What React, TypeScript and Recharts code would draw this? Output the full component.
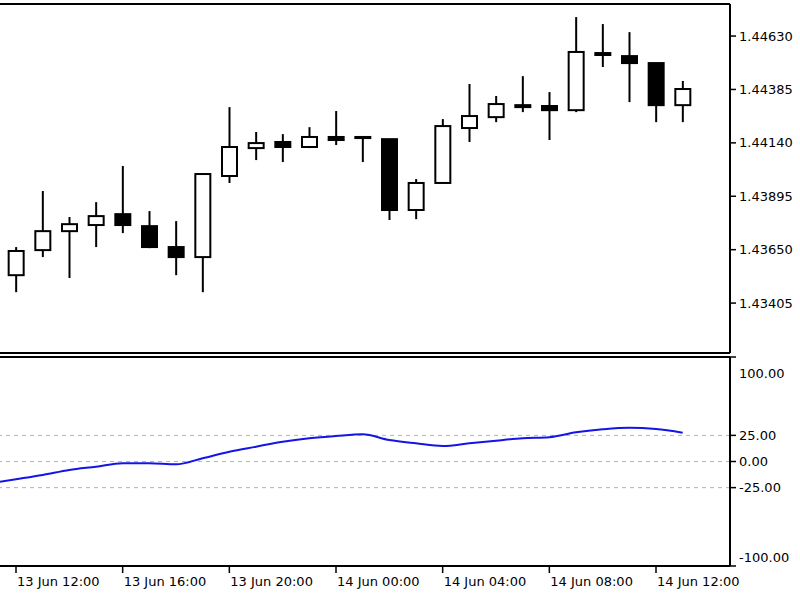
import { ComposedChart, Bar, Line, XAxis, YAxis, ReferenceLine } from "recharts";

// hourly candles, 13 Jun 12:00 .. 14 Jun 13:00
const candleTimes = [
  "13 Jun 12:00", "13 Jun 13:00", "13 Jun 14:00", "13 Jun 15:00", "13 Jun 16:00", "13 Jun 17:00",
  "13 Jun 18:00", "13 Jun 19:00", "13 Jun 20:00", "13 Jun 21:00", "13 Jun 22:00", "13 Jun 23:00",
  "14 Jun 00:00", "14 Jun 01:00", "14 Jun 02:00", "14 Jun 03:00", "14 Jun 04:00", "14 Jun 05:00",
  "14 Jun 06:00", "14 Jun 07:00", "14 Jun 08:00", "14 Jun 09:00", "14 Jun 10:00", "14 Jun 11:00",
  "14 Jun 12:00", "14 Jun 13:00",
];
const opens = [1.43533, 1.43648, 1.43735, 1.43763, 1.43813, 1.43758, 1.43662, 1.43616, 1.43988, 1.44116, 1.44144, 1.44121, 1.44167, 1.44167, 1.44157, 1.43832, 1.43956, 1.44208, 1.44258, 1.44313, 1.44309, 1.4429, 1.44552, 1.44538, 1.44506, 1.44313];
const highs = [1.43662, 1.43919, 1.438, 1.43868, 1.44034, 1.43827, 1.43781, 1.43997, 1.44304, 1.4419, 1.4418, 1.44212, 1.44286, 1.44171, 1.44157, 1.43974, 1.44249, 1.4441, 1.44355, 1.44446, 1.44373, 1.44717, 1.44685, 1.44648, 1.44506, 1.44424];
const lows = [1.43455, 1.43616, 1.4352, 1.43662, 1.43726, 1.43657, 1.43533, 1.43455, 1.43956, 1.44061, 1.44052, 1.44116, 1.4413, 1.44052, 1.43786, 1.4379, 1.43956, 1.44144, 1.44235, 1.44281, 1.44153, 1.44281, 1.44488, 1.44327, 1.44235, 1.44235];
const closes = [1.43644, 1.43735, 1.43767, 1.43804, 1.43763, 1.43662, 1.43616, 1.43997, 1.44121, 1.44139, 1.44121, 1.44167, 1.44153, 1.44162, 1.43832, 1.43956, 1.44217, 1.44263, 1.44318, 1.44304, 1.4429, 1.44557, 1.44543, 1.44506, 1.44313, 1.44387];
const priceTicks = [1.43405, 1.4365, 1.43895, 1.4414, 1.44385, 1.4463];

// indicator starts one bar earlier (13 Jun 11:00, off screen)
const cciTimes = ["13 Jun 11:00", ...candleTimes];
const cciValues = [-21, -17, -12.9, -8.1, -5, -1.7, -1.7, -2.7, 3.1, 9.4, 14.2, 18.9, 22.2, 24.4, 26, 20.6, 17.4, 14.8, 17.4, 19.9, 22.2, 23.2, 27.9, 30.8, 32.3, 31.1, 27.6];
const cciLevels = [25, 0, -25];
const cciTicks = [-100, -25, 0, 25, 100];

const candles = candleTimes.map((t, i) => ({
  i,
  time: t,
  open: opens[i],
  high: highs[i],
  low: lows[i],
  close: closes[i],
  range: [lows[i], highs[i]],
}));
const cci = cciTimes.map((t, i) => ({ i: i - 1, time: t, cci: cciValues[i] }));

const xDomain = [-0.6, 26.775];
const font = { fill: "#000", fontSize: 13, fontFamily: "DejaVu Sans" };
const border = { stroke: "#000", strokeWidth: 2 };

function Candle(props: any) {
  const { x, y, width, height, payload } = props;
  const top = Math.min(y, y + height);
  const h = Math.abs(height);
  const { open, close, high, low } = payload;
  const span = high - low;
  const toY = (p: number) => (span === 0 ? top : top + ((high - p) / span) * h);
  const yo = toY(open);
  const yc = toY(close);
  const bTop = Math.min(yo, yc);
  const bH = Math.max(Math.abs(yo - yc), 0.5);
  const cx = x + width / 2;
  const up = close >= open;
  return (
    <g>
      <line x1={cx} x2={cx} y1={top} y2={top + h} stroke="#000" strokeWidth={2} />
      <rect x={x} y={bTop} width={width} height={bH} fill={up ? "#fff" : "#000"} stroke="#000" strokeWidth={2} />
    </g>
  );
}

function TimeTick(props: any) {
  const { x, y, payload } = props;
  return (
    <text x={x + 1} y={y + 11} textAnchor="start" {...font}>
      {candleTimes[payload.value]}
    </text>
  );
}

function CciTick(props: any) {
  const { x, y, payload } = props;
  const v = payload.value;
  const dy = v === 100 ? 9 : v === -100 ? -9 : 0;
  return (
    <text x={x} y={y + dy} dy="0.355em" textAnchor="start" {...font}>
      {v.toFixed(2)}
    </text>
  );
}

export default function App() {
  return (
    <div style={{ position: "absolute", left: 0, top: 0, width: 800, height: 600, background: "#fff" }}>
      <div style={{ position: "absolute", left: 0, top: 0 }}>
        <ComposedChart width={800} height={355} data={candles} margin={{ top: 3, right: 0, left: 0, bottom: 1 }}>
          <XAxis dataKey="i" type="number" domain={xDomain} allowDataOverflow height={1} tick={false} tickLine={false} axisLine={border} />
          <XAxis xAxisId="top" orientation="top" dataKey="i" type="number" domain={xDomain} allowDataOverflow height={1} tick={false} tickLine={false} axisLine={border} />
          <YAxis
            orientation="right"
            width={70}
            domain={[1.43176, 1.44777]}
            allowDataOverflow
            ticks={priceTicks}
            tickFormatter={(v: number) => v.toFixed(5)}
            tick={font}
            tickSize={6}
            tickMargin={3}
            tickLine={{ stroke: "#000", strokeWidth: 1.5 }}
            axisLine={border}
          />
          <Bar dataKey="range" barSize={15} shape={<Candle />} isAnimationActive={false} />
        </ComposedChart>
      </div>
      <div style={{ position: "absolute", left: 0, top: 355 }}>
        <ComposedChart width={800} height={245} data={cci} margin={{ top: 1, right: 0, left: 0, bottom: 0 }}>
          <XAxis
            dataKey="i"
            type="number"
            domain={xDomain}
            allowDataOverflow
            height={34}
            ticks={[0, 4, 8, 12, 16, 20, 24]}
            tick={<TimeTick />}
            tickSize={7}
            tickLine={{ stroke: "#000", strokeWidth: 1.5 }}
            axisLine={border}
          />
          <XAxis xAxisId="top" orientation="top" dataKey="i" type="number" domain={xDomain} allowDataOverflow height={1} tick={false} tickLine={false} axisLine={border} />
          <YAxis
            orientation="right"
            width={70}
            domain={[-100, 100]}
            ticks={cciTicks}
            tick={<CciTick />}
            tickSize={6}
            tickMargin={3}
            tickLine={{ stroke: "#000", strokeWidth: 1.5 }}
            axisLine={border}
          />
          {cciLevels.map((lv) => (
            <ReferenceLine key={lv} y={lv} stroke="#b4b4b4" strokeDasharray="4 4" />
          ))}
          <Line type="monotone" dataKey="cci" stroke="#1414e6" strokeWidth={2} dot={false} isAnimationActive={false} />
        </ComposedChart>
      </div>
    </div>
  );
}
